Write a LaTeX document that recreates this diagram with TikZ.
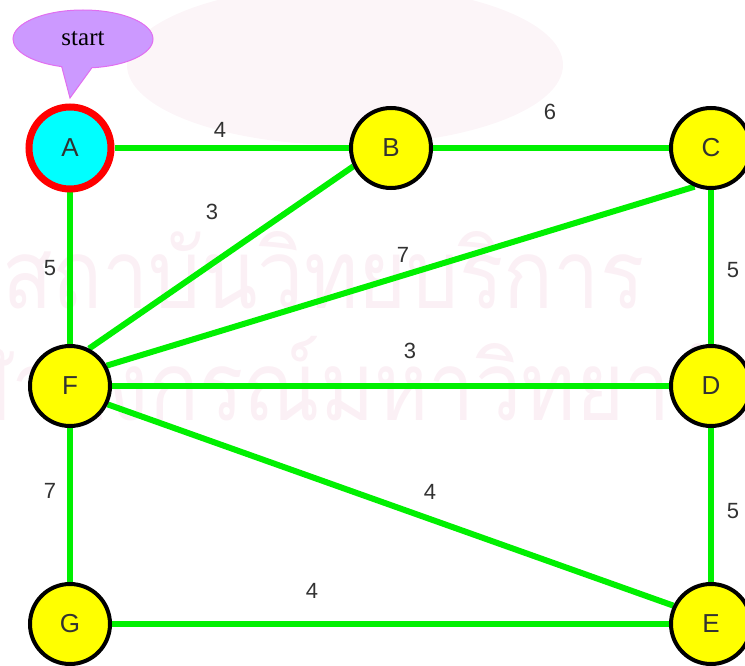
\documentclass[tikz,border=0pt]{standalone}
\usepackage{fontspec}
\setmainfont{Liberation Serif}
\newfontfamily\lblfont{Liberation Sans}
\newfontfamily\thaifont[Script=Thai]{Loma}
\usetikzlibrary{shapes.callouts}
\usetikzlibrary{backgrounds}
\definecolor{green1}{RGB}{0,240,0}
\definecolor{yellow1}{RGB}{255,255,0}
\definecolor{cyan1}{RGB}{0,255,255}
\definecolor{red1}{RGB}{255,0,0}
\definecolor{lilac1}{RGB}{204,153,255}
\definecolor{pink1}{RGB}{225,110,240}
\definecolor{mark1}{RGB}{251,240,245}
\definecolor{text1}{RGB}{50,50,50}

\begin{document}
\begin{tikzpicture}[x=1pt, y=-1pt,
  vtx/.style={circle, fill=yellow1, draw=black, line width=4pt, minimum size=80pt, inner sep=0pt, text=text1, font=\lblfont\fontsize{26}{26}\selectfont},
  edge/.style={draw=green1, line width=6pt},
  wt/.style={inner sep=0pt, text=text1, font=\lblfont\fontsize{22}{22}\selectfont},
  wmark/.style={text=mark1, inner sep=0pt, font=\thaifont\fontsize{96}{96}\selectfont}]
  \useasboundingbox (0,0) rectangle (745,666);
  \clip (0,0) rectangle (745,666);

  \node[vtx, fill=cyan1, draw=red1, line width=7pt, minimum size=82pt] (A) at (70,148) {A};
  \node[vtx] (B) at (391,148) {B};
  \node[vtx] (C) at (711,148) {C};
  \node[vtx] (F) at (70,386) {F};
  \node[vtx] (D) at (711,386) {D};
  \node[vtx] (G) at (70,624) {G};
  \node[vtx] (E) at (711,624) {E};

  \node[ellipse callout, fill=lilac1, draw=pink1, line width=1pt, minimum width=140pt, minimum height=58pt, inner sep=0pt,
    callout absolute pointer={(70,98)}, callout pointer arc=25, font=\fontsize{25}{25}\selectfont] (start) at (83,39) {start};

  \begin{scope}[on background layer]
    % watermark
    \fill[mark1!70!white] (345,65) ellipse (218 and 80);
    \node[wmark, anchor=base west] (wm1) at (2,308) {\scalebox{0.86}[1]{สถาบันวิทยบริการ}};
    \node[wmark, anchor=base east] (wm2) at (770,420) {\scalebox{0.86}[1]{จุฬาลงกรณ์มหาวิทยาลัย}};

    \foreach \from/\to in {A/B, B/C, A/F, C/D, F/D, D/E, F/G, G/E}
      \draw[edge] (\from) -- (\to);
    \draw[edge] (F.63) -- (B.206);
    \draw[edge] (F.29) -- (C.247);
    \draw[edge] (F.-26) -- (E.154);
  \end{scope}

  \foreach \x/\y/\w [count=\i] in {220/130/4, 550/112/6, 212/212/3, 50/268/5, 403/255/7, 733/270/5,
      410/351/3, 50/491/7, 430/492/4, 733/511/5, 312/591/4}
    \node[wt] (w\i) at (\x,\y) {\w};
\end{tikzpicture}
\end{document}
